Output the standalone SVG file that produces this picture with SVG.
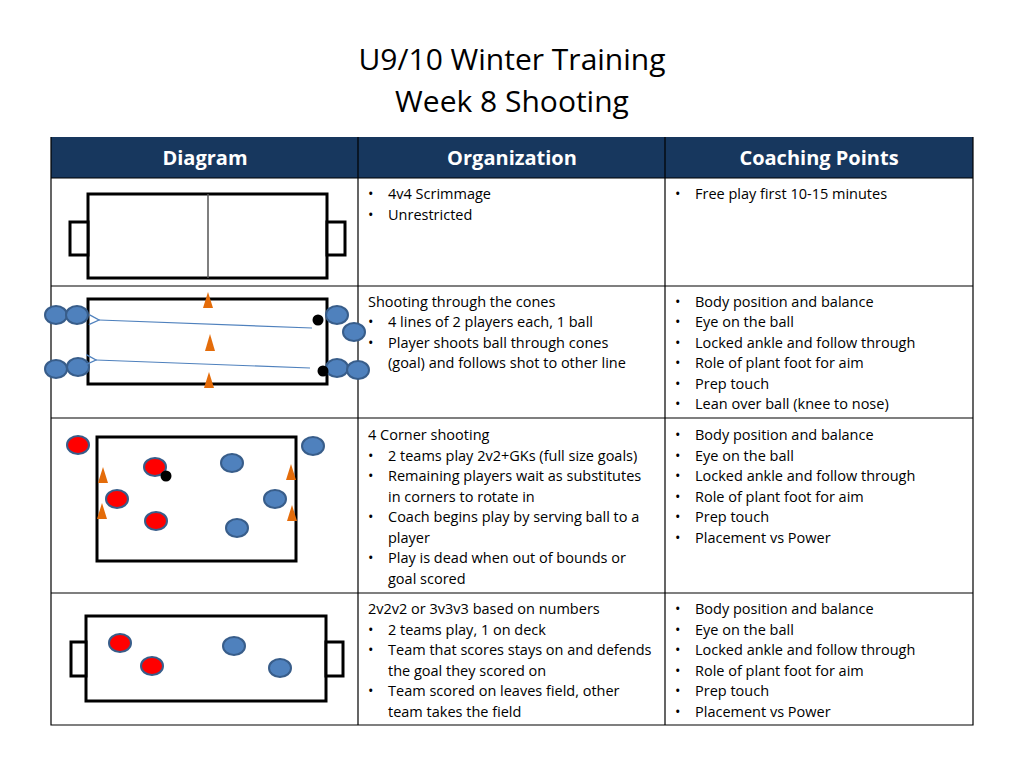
<svg xmlns="http://www.w3.org/2000/svg" width="1024" height="768" viewBox="0 0 1024 768">
<style>
text{font-family:"Open Sans","Liberation Sans",sans-serif;fill:#000}
.t{font-size:14.5px}
.h{font-size:20px;font-weight:bold;fill:#fff;text-anchor:middle}
.title{font-size:30px;text-anchor:middle}
.grid{stroke:#000;stroke-width:1.2;fill:none}
.f{fill:#fff;stroke:#000;stroke-width:3}
.b{fill:#4f81bd;stroke:#385d8a;stroke-width:2}
.r{fill:#f00;stroke:#385d8a;stroke-width:2}
.c{fill:#e46c0a}
.ar{stroke:#4f81bd;stroke-width:1.2;fill:none}
</style>
<defs><marker id="m" markerWidth="12" markerHeight="12" refX="1" refY="6" orient="auto" markerUnits="userSpaceOnUse"><path d="M11,1 L1,6 L11,11" fill="none" stroke="#4f81bd" stroke-width="1.2"/></marker></defs>
<rect width="1024" height="768" fill="#fff"/>
<text class="title" x="512" y="70">U9/10 Winter Training</text>
<text class="title" x="512" y="112">Week 8 Shooting</text>
<g id="table">
<rect x="51" y="137" width="922" height="41" fill="#17375e"/>
<text class="h" x="205" y="165">Diagram</text>
<text class="h" x="512" y="165">Organization</text>
<text class="h" x="819" y="165">Coaching Points</text>
<path class="grid" d="M51,137V725H973V137M358,137V725M665,137V725M51,178H973M51,286H973M51,418H973M51,593H973"/>
</g>
<g id="d1">
<rect class="f" x="88" y="194" width="239" height="84"/>
<line x1="208" y1="194" x2="208" y2="278" stroke="#555" stroke-width="1.5"/>
<rect class="f" x="70" y="222" width="18" height="33"/><rect class="f" x="327" y="222" width="18" height="33"/>
</g>
<g id="d2">
<rect class="f" x="88" y="299" width="239" height="85"/>
<polygon class="c" points="208,292 203,308 213,308"/><polygon class="c" points="210,334 205,351 215,351"/><polygon class="c" points="209,372 204,388 214,388"/>
<ellipse class="b" cx="56" cy="315" rx="11" ry="9"/><ellipse class="b" cx="77" cy="315" rx="11" ry="9"/>
<ellipse class="b" cx="56" cy="369" rx="11" ry="9"/><ellipse class="b" cx="78" cy="367" rx="11" ry="9"/>
<ellipse class="b" cx="337" cy="315" rx="11" ry="9"/><ellipse class="b" cx="354" cy="332" rx="11" ry="9"/>
<ellipse class="b" cx="337" cy="368" rx="11" ry="9"/><ellipse class="b" cx="358" cy="370" rx="11" ry="9"/>
<circle cx="318" cy="320" r="5.5"/><circle cx="323" cy="371" r="5.5"/>
</g>
<g id="connectors">
<line class="ar" x1="312" y1="328" x2="99" y2="320" marker-end="url(#m)"/>
<line class="ar" x1="310" y1="368" x2="96" y2="360" marker-end="url(#m)"/>
</g>
<g id="d3">
<rect class="f" x="97" y="437" width="199" height="124"/>
<polygon class="c" points="103,467 98,483 108,483"/><polygon class="c" points="102,503 97,519 107,519"/>
<polygon class="c" points="291,464 286,480 296,480"/><polygon class="c" points="292,505 287,521 297,521"/>
<ellipse class="r" cx="78" cy="445" rx="11" ry="9"/><ellipse class="r" cx="155" cy="467" rx="11" ry="9"/>
<ellipse class="r" cx="117" cy="499" rx="11" ry="9"/><ellipse class="r" cx="156" cy="521" rx="11" ry="9"/>
<ellipse class="b" cx="313" cy="446" rx="11" ry="9"/><ellipse class="b" cx="232" cy="463" rx="11" ry="9"/>
<ellipse class="b" cx="275" cy="499" rx="11" ry="9"/><ellipse class="b" cx="237" cy="528" rx="11" ry="9"/>
<circle cx="166" cy="476" r="5.5"/>
</g>
<g id="d4">
<rect class="f" x="86" y="616" width="240" height="85"/>
<rect class="f" x="71" y="642" width="15" height="34"/><rect class="f" x="326" y="642" width="17" height="34"/>
<ellipse class="r" cx="120" cy="643" rx="11" ry="9"/><ellipse class="r" cx="152" cy="666" rx="11" ry="9"/>
<ellipse class="b" cx="234" cy="646" rx="11" ry="9"/><ellipse class="b" cx="280" cy="668" rx="11" ry="9"/>
</g>
<g id="org" class="t">
<text x="368" y="199">•</text><text x="388" y="199">4v4 Scrimmage</text>
<text x="368" y="220">•</text><text x="388" y="220">Unrestricted</text>
<text x="368" y="307">Shooting through the cones</text>
<text x="368" y="327">•</text><text x="388" y="327">4 lines of 2 players each, 1 ball</text>
<text x="368" y="348">•</text><text x="388" y="348">Player shoots ball through cones</text>
<text x="388" y="368">(goal) and follows shot to other line</text>
<text x="368" y="440">4 Corner shooting</text>
<text x="368" y="461">•</text><text x="388" y="461">2 teams play 2v2+GKs (full size goals)</text>
<text x="368" y="481">•</text><text x="388" y="481">Remaining players wait as substitutes</text>
<text x="388" y="502">in corners to rotate in</text>
<text x="368" y="522">•</text><text x="388" y="522">Coach begins play by serving ball to a</text>
<text x="388" y="543">player</text>
<text x="368" y="563">•</text><text x="388" y="563">Play is dead when out of bounds or</text>
<text x="388" y="584">goal scored</text>
<text x="368" y="614">2v2v2 or 3v3v3 based on numbers</text>
<text x="368" y="635">•</text><text x="388" y="635">2 teams play, 1 on deck</text>
<text x="368" y="655">•</text><text x="388" y="655">Team that scores stays on and defends</text>
<text x="388" y="676">the goal they scored on</text>
<text x="368" y="696">•</text><text x="388" y="696">Team scored on leaves field, other</text>
<text x="388" y="717">team takes the field</text>
</g>
<g id="coach" class="t">
<text x="675" y="199">•</text><text x="695" y="199">Free play first 10-15 minutes</text>
<text x="675" y="307">•</text><text x="695" y="307">Body position and balance</text>
<text x="675" y="327">•</text><text x="695" y="327">Eye on the ball</text>
<text x="675" y="348">•</text><text x="695" y="348">Locked ankle and follow through</text>
<text x="675" y="368">•</text><text x="695" y="368">Role of plant foot for aim</text>
<text x="675" y="389">•</text><text x="695" y="389">Prep touch</text>
<text x="675" y="409">•</text><text x="695" y="409">Lean over ball (knee to nose)</text>
<text x="675" y="440">•</text><text x="695" y="440">Body position and balance</text>
<text x="675" y="461">•</text><text x="695" y="461">Eye on the ball</text>
<text x="675" y="481">•</text><text x="695" y="481">Locked ankle and follow through</text>
<text x="675" y="502">•</text><text x="695" y="502">Role of plant foot for aim</text>
<text x="675" y="522">•</text><text x="695" y="522">Prep touch</text>
<text x="675" y="543">•</text><text x="695" y="543">Placement vs Power</text>
<text x="675" y="614">•</text><text x="695" y="614">Body position and balance</text>
<text x="675" y="635">•</text><text x="695" y="635">Eye on the ball</text>
<text x="675" y="655">•</text><text x="695" y="655">Locked ankle and follow through</text>
<text x="675" y="676">•</text><text x="695" y="676">Role of plant foot for aim</text>
<text x="675" y="696">•</text><text x="695" y="696">Prep touch</text>
<text x="675" y="717">•</text><text x="695" y="717">Placement vs Power</text>
</g>
</svg>
